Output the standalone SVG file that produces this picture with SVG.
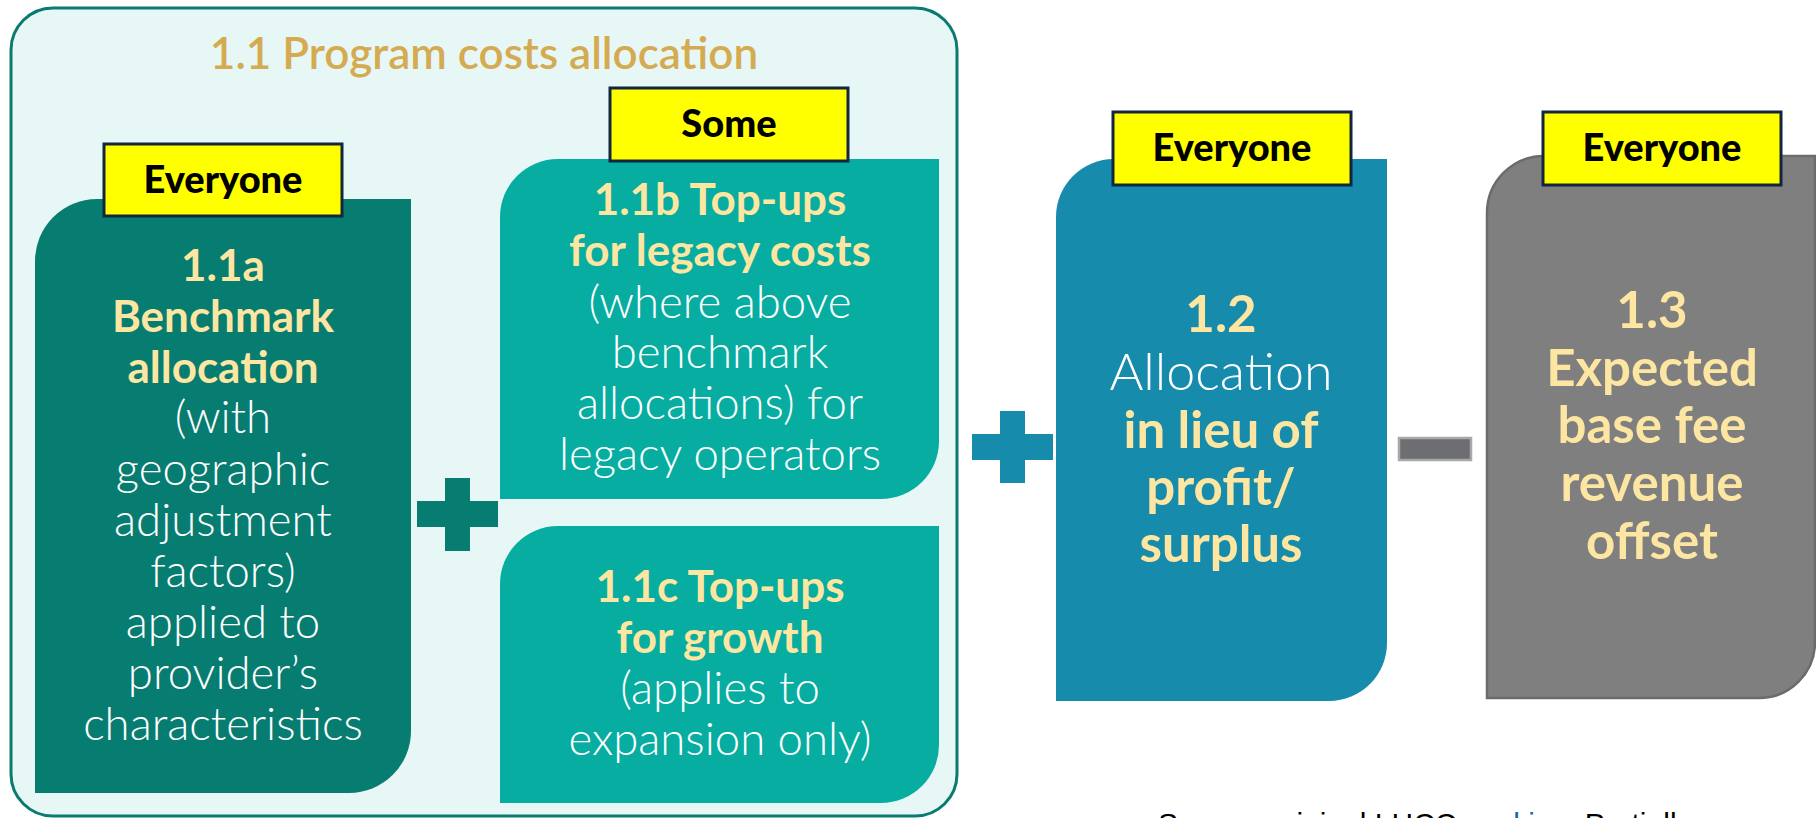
<svg xmlns="http://www.w3.org/2000/svg" width="1816" height="818" viewBox="0 0 1816 818">
  <style>
    text { font-family: Lato, "Open Sans", "Liberation Sans", sans-serif; text-anchor: middle; }
    .hd { font-weight: 700; fill: #fde6a2; }
    .lt { font-weight: 300; fill: #ffffff; }
    .s44 .hd { font-size: 44px; }
    .s44 .lt { font-size: 45.5px; }
    .s51 .hd { font-size: 51px; }
    .s51 .lt { font-size: 52px; }
    .badge rect { fill: #ffff00; stroke: #13263f; stroke-width: 3; }
    .badge text { font-weight: 900; font-size: 38px; fill: #000000; }
    .title { font-weight: 600; font-size: 44px; fill: #d5ab52; }
  </style>

  <rect width="1816" height="818" fill="#ffffff"/>

  <!-- 1.1 group container -->
  <g id="group-1-1">
    <rect x="11" y="8" width="946" height="808" rx="42" ry="42" fill="#e6f7f6" stroke="#0b7b70" stroke-width="3"/>
    <text class="title" x="484" y="69">1.1 Program costs allocation</text>
  </g>

  <!-- 1.1a -->
  <g id="node-1-1a">
    <path d="M35,261 A62,62 0 0 1 97,199 H411 V731 A62,62 0 0 1 349,793 H35 Z" fill="#077c70"/>
    <g class="s44">
      <text class="hd" x="223" y="281">1.1a</text>
      <text class="hd" x="223" y="332">Benchmark</text>
      <text class="hd" x="223" y="383">allocation</text>
      <text class="lt" x="223" y="433">(with</text>
      <text class="lt" x="223" y="485">geographic</text>
      <text class="lt" x="223" y="536">adjustment</text>
      <text class="lt" x="223" y="587">factors)</text>
      <text class="lt" x="223" y="638">applied to</text>
      <text class="lt" x="223" y="689">provider’s</text>
      <text class="lt" x="223" y="740">characteristics</text>
    </g>
    <g class="badge">
      <rect x="104" y="144" width="238" height="72"/>
      <text x="223" y="193">Everyone</text>
    </g>
  </g>

  <!-- 1.1b -->
  <g id="node-1-1b">
    <path d="M500,217 A58,58 0 0 1 558,159 H939 V441 A58,58 0 0 1 881,499 H500 Z" fill="#07ada0"/>
    <g class="s44">
      <text class="hd" x="720" y="215">1.1b Top-ups</text>
      <text class="hd" x="720" y="266">for legacy costs</text>
      <text class="lt" x="720" y="318">(where above</text>
      <text class="lt" x="720" y="368">benchmark</text>
      <text class="lt" x="720" y="419">allocations) for</text>
      <text class="lt" x="720" y="470">legacy operators</text>
    </g>
    <g class="badge">
      <rect x="610" y="88" width="238" height="73"/>
      <text x="729" y="137">Some</text>
    </g>
  </g>

  <!-- 1.1c -->
  <g id="node-1-1c">
    <path d="M500,584 A58,58 0 0 1 558,526 H939 V745 A58,58 0 0 1 881,803 H500 Z" fill="#07ada0"/>
    <g class="s44">
      <text class="hd" x="720" y="602">1.1c Top-ups</text>
      <text class="hd" x="720" y="653">for growth</text>
      <text class="lt" x="720" y="704">(applies to</text>
      <text class="lt" x="720" y="755">expansion only)</text>
    </g>
  </g>

  <!-- 1.2 -->
  <g id="node-1-2">
    <path d="M1056,217 A58,58 0 0 1 1114,159 H1387 V643 A58,58 0 0 1 1329,701 H1056 Z" fill="#168bab"/>
    <g class="s51">
      <text class="hd" x="1221" y="332">1.2</text>
      <text class="lt" x="1221" y="390">Allocation</text>
      <text class="hd" x="1221" y="448">in lieu of</text>
      <text class="hd" x="1221" y="505">profit/</text>
      <text class="hd" x="1221" y="562">surplus</text>
    </g>
    <g class="badge">
      <rect x="1113" y="112" width="238" height="73"/>
      <text x="1232" y="161">Everyone</text>
    </g>
  </g>

  <!-- 1.3 -->
  <g id="node-1-3">
    <path d="M1487,213 A57,57 0 0 1 1544,156 H1815 V642 A56,56 0 0 1 1759,698 H1487 Z" fill="#7f7f7f" stroke="#6b6b6e" stroke-width="2.5"/>
    <g class="s51">
      <text class="hd" x="1652" y="328">1.3</text>
      <text class="hd" x="1652" y="386">Expected</text>
      <text class="hd" x="1652" y="443">base fee</text>
      <text class="hd" x="1652" y="501">revenue</text>
      <text class="hd" x="1652" y="559">offset</text>
    </g>
    <g class="badge">
      <rect x="1543" y="112" width="238" height="73"/>
      <text x="1662" y="161">Everyone</text>
    </g>
  </g>

  <!-- operators between the terms -->
  <g id="connectors">
    <path d="M445,478 H470 V501 H498 V527 H470 V551 H445 V527 H417 V501 H445 Z" fill="#077c70"/>
    <path d="M1000,411 H1025 V434 H1053 V460 H1025 V483 H1000 V460 H972 V434 H1000 Z" fill="#168bab"/>
    <rect x="1399" y="438" width="72" height="22" fill="#6d6e72" stroke="#a8a8a8" stroke-width="2.5"/>
  </g>

  <!-- source line, running off the bottom edge of the page -->
  <text x="1158" y="834" style="text-anchor:start; font-family:'Liberation Sans', sans-serif; font-size:30px; fill:#000000;">Source: original LHCC <tspan fill="#1565b0">working</tspan>. Partially</text>
</svg>
